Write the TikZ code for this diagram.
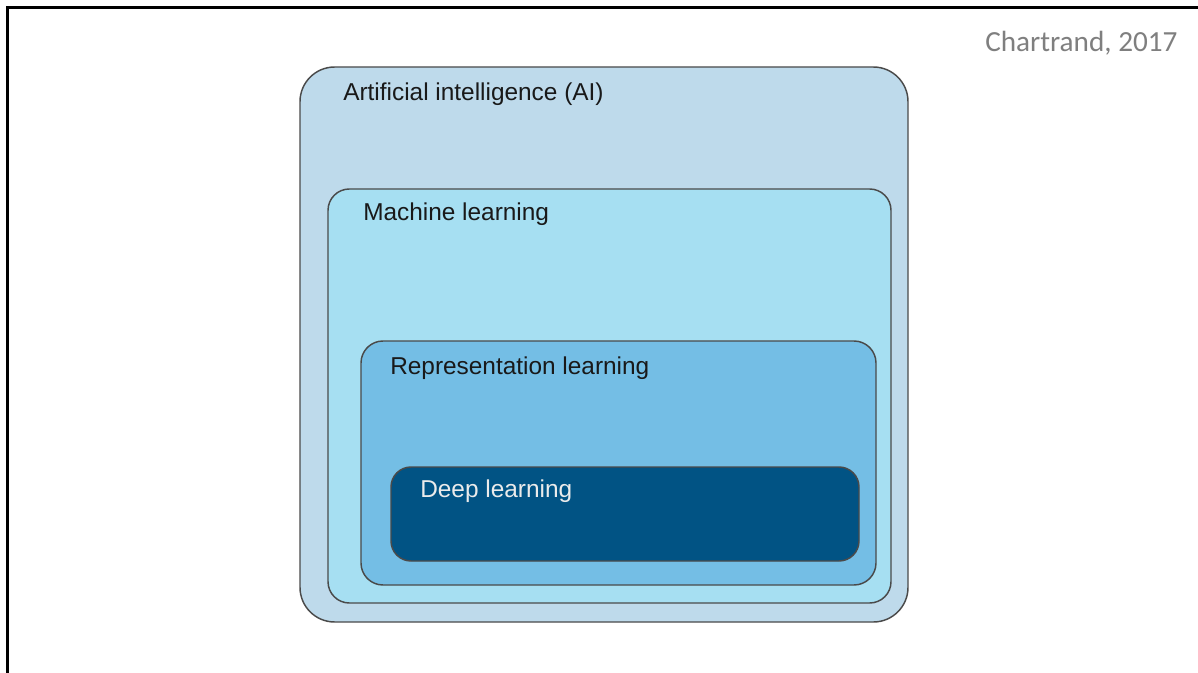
\documentclass[tikz,border=0pt]{standalone}
\usepackage{fontspec}
\setmainfont{Liberation Sans}
\newfontfamily\notefont{Carlito}
\definecolor{aifill}{HTML}{BEDAEB}
\definecolor{mlfill}{HTML}{A6DFF2}
\definecolor{rlfill}{HTML}{74BEE5}
\definecolor{dlfill}{HTML}{015384}
\definecolor{boxline}{HTML}{4A4A4A}
\definecolor{notegray}{HTML}{7F7F7F}
\begin{document}
\begin{tikzpicture}[x=0.75pt,y=-0.75pt,
  layer/.style={draw=boxline, line width=1.1pt, inner sep=0pt, outer sep=0pt, rectangle},
  lbl/.style={anchor=base west, inner sep=0pt, font=\fontsize{18.3}{22}\selectfont, text=black!90},
  frameline/.style={line width=2.2pt, black}]
\useasboundingbox (0,0) rectangle (1198,673);
\fill[white] (0,0) rectangle (1198,673);
% frame (top and left edges)
\coordinate (fc) at (7.5,7.5);
\coordinate (ftr) at (1198,7.5);
\coordinate (fbl) at (7.5,673);
\draw[frameline] (ftr) -- (fc) -- (fbl);
% nested boxes
\node[layer, fill=aifill, rounded corners=26pt, minimum width=456pt, minimum height=416.25pt] (ai) at (604,344.5) {};
\node[layer, fill=mlfill, rounded corners=16pt, minimum width=422.25pt, minimum height=310.5pt] (ml) at (609.5,396) {};
\node[layer, fill=rlfill, rounded corners=16.5pt, minimum width=386.25pt, minimum height=183pt] (rl) at (618.5,463) {};
\node[layer, fill=dlfill, rounded corners=15pt, minimum width=351pt, minimum height=70.5pt] (dl) at (625,514) {};
% labels
\node[lbl] (tai) at (343,101) {Artificial intelligence (AI)};
\node[lbl] (tml) at (363,221) {Machine learning};
\node[lbl] (trl) at (390,374) {Representation learning};
\node[lbl, text=white!92!black] (tdl) at (420,497) {Deep learning};
\node[anchor=base west, inner sep=0pt, font=\notefont\fontsize{21.9}{26}\selectfont, text=notegray] (note) at (985,52) {Chartrand, 2017};
\end{tikzpicture}
\end{document}
